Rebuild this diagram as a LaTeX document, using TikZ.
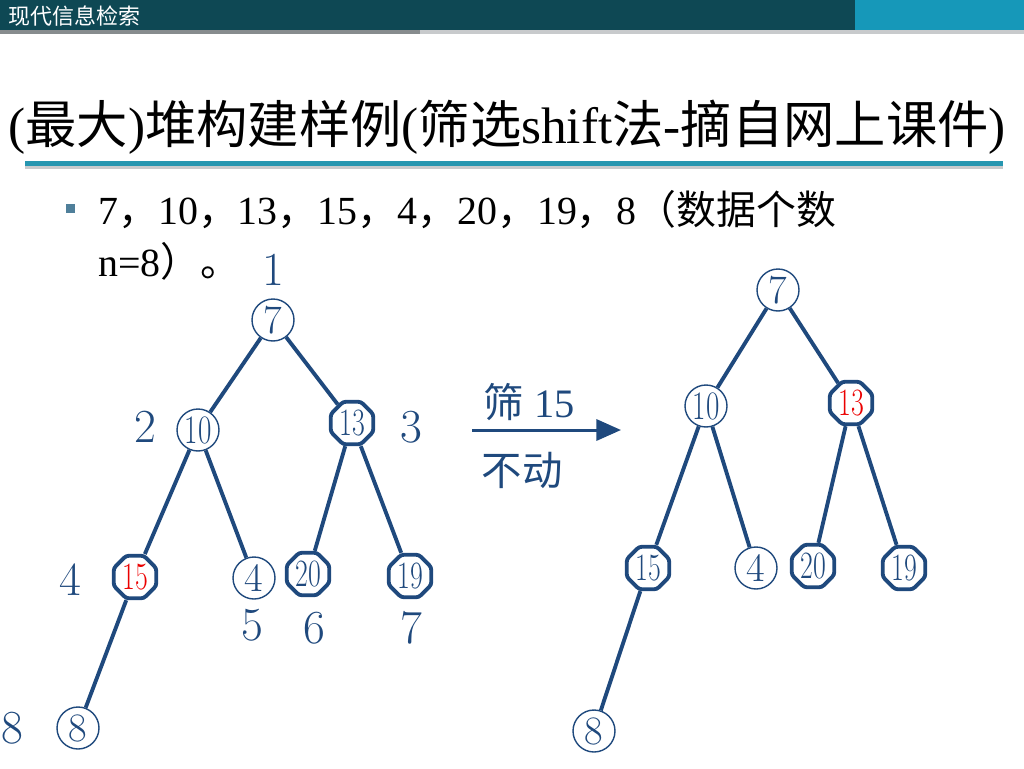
\documentclass[tikz,border=0pt]{standalone}
\usepackage{fontspec}
\usepackage{graphicx}
\usetikzlibrary{arrows.meta,shapes.geometric}
\newfontfamily\zh{Noto Sans CJK SC}
\newfontfamily\tms{Liberation Serif}
\definecolor{hdteal}{RGB}{14,72,84}
\definecolor{hdblue}{RGB}{22,152,185}
\definecolor{stripdark}{RGB}{135,140,142}
\definecolor{striplight}{RGB}{200,202,204}
\definecolor{ruleteal}{RGB}{38,150,176}
\definecolor{bulletblue}{RGB}{79,127,154}
\definecolor{treenavy}{RGB}{31,73,125}
\definecolor{hotred}{RGB}{235,0,0}
\newcommand{\nn}[1]{\scalebox{0.72}[1]{#1}}
\tikzset{
  circnode/.style={circle, draw=treenavy, line width=0.8pt,
                   minimum size=0.84cm, inner sep=0pt, text=treenavy,
                   font=\fontsize{23}{23}\selectfont},
  octnode/.style={regular polygon, regular polygon sides=8,
                  draw=treenavy, line width=2.2pt, rounded corners=1.5pt,
                  minimum size=0.92cm, inner sep=0pt, text=treenavy,
                  font=\fontsize{22}{22}\selectfont},
  hot/.style={text=hotred},
  idxlab/.style={text=treenavy, inner sep=0pt,
                 font=\fontsize{27}{27}\selectfont},
  edge/.style={treenavy, line width=2.2pt},
  flow/.style={-{Triangle[length=14pt,width=12pt]}, treenavy, line width=1.7pt},
  steplab/.style={text=treenavy, inner sep=0pt,
                  font=\tms\fontsize{23}{23}\selectfont},
}

\begin{document}
\begin{tikzpicture}[x=0.02cm,y=-0.02cm]
  \path[use as bounding box] (0,0) rectangle (1024,768);

  % slide header
  \fill[hdteal] (0,0) rectangle (855,30);
  \fill[hdblue] (855,0) rectangle (1024,30);
  \fill[stripdark] (0,30) rectangle (420,34);
  \fill[striplight] (420,30) rectangle (1024,34);
  \node[text=white, anchor=west, inner sep=0pt, font=\zh\fontsize{12.5}{12.5}\selectfont]
    (hdr) at (8,16) {现代信息检索};

  % title and rule
  \node[anchor=base west, inner sep=0pt, font=\tms\fontsize{29.2}{29.2}\selectfont]
    (title) at (8,143)
    {({\zh 最大}){\zh 堆构建样例}({\zh 筛选}shift{\zh 法}-{\zh 摘自网上课件})};
  \fill[striplight] (25,166) rectangle (1003,169);
  \fill[ruleteal] (25,161) rectangle (1003,166);

  % bullet text
  \fill[bulletblue] (66,204) rectangle (75,213);
  \node[anchor=base west, inner sep=0pt, font=\tms\fontsize{22.7}{22.7}\selectfont]
    (line1) at (98,224)
    {7{\zh ，}10{\zh ，}13{\zh ，}15{\zh ，}4{\zh ，}20{\zh ，}19{\zh ，}8{\zh （数据个数}};
  \node[anchor=base west, inner sep=0pt, font=\tms\fontsize{22.7}{22.7}\selectfont]
    (line2) at (98,276) {n=8{\zh ）。}};

  % left tree
  \node[circnode] (L7) at (273,320) {7};
  \node[circnode] (L10) at (198,430) {\nn{10}};
  \node[octnode] (L13) at (352,423) {\nn{13}};
  \node[octnode, hot] (L15) at (135,577) {\nn{15}};
  \node[circnode] (L4) at (254,578) {4};
  \node[octnode] (L20) at (308,574) {\nn{20}};
  \node[octnode] (L19) at (410,576) {\nn{19}};
  \node[circnode] (L8) at (78,728) {8};
  \foreach \a/\b in {L7/L10, L7/L13, L10/L15, L10/L4, L13/L20, L13/L19, L15/L8}
    \draw[edge] (\a) -- (\b);

  \node[idxlab] (i1) at (273,270) {1};
  \node[idxlab] (i2) at (145,427) {2};
  \node[idxlab] (i3) at (411,427) {3};
  \node[idxlab] (i4) at (70,580) {4};
  \node[idxlab] (i5) at (252,625) {5};
  \node[idxlab] (i6) at (314,628) {6};
  \node[idxlab] (i7) at (411,628) {7};
  \node[idxlab] (i8) at (12,728) {8};

  % sift step
  \coordinate (arrS) at (472,430);
  \coordinate (arrE) at (621,430);
  \draw[flow] (arrS) -- (arrE);
  \node[steplab] (sift) at (529,402) {{\zh 筛} 15};
  \node[steplab] (stay) at (522,470) {\zh 不动};

  % right tree
  \node[circnode] (R7) at (778,290) {7};
  \node[circnode] (R10) at (706,406) {\nn{10}};
  \node[octnode, hot] (R13) at (851,403) {\nn{13}};
  \node[octnode] (R15) at (648,568) {\nn{15}};
  \node[circnode] (R4) at (756,568) {4};
  \node[octnode] (R20) at (813,566) {\nn{20}};
  \node[octnode] (R19) at (904,568) {\nn{19}};
  \node[circnode] (R8) at (594,731) {8};
  \foreach \a/\b in {R7/R10, R7/R13, R10/R15, R10/R4, R13/R20, R13/R19, R15/R8}
    \draw[edge] (\a) -- (\b);
\end{tikzpicture}
\end{document}
